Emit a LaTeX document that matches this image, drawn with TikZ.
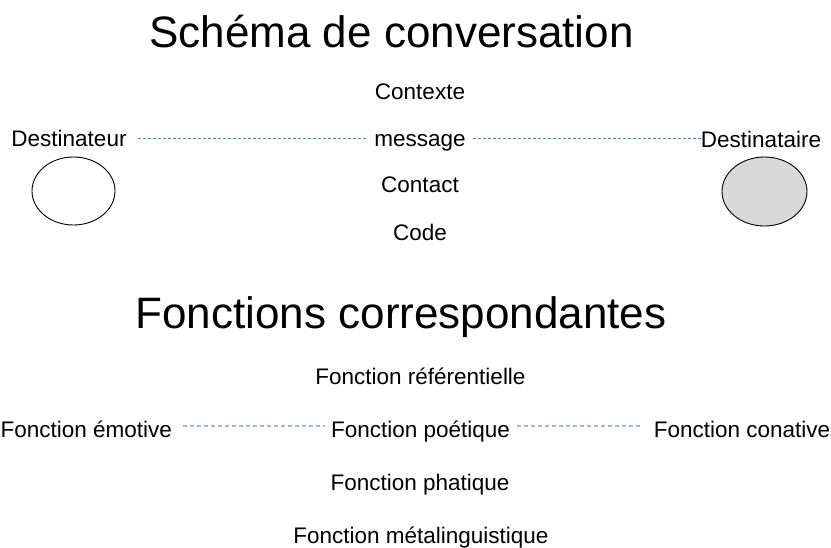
\documentclass[tikz,border=0pt]{standalone}
\usepackage{fontspec}
\setmainfont{Liberation Sans}
\usetikzlibrary{shapes.geometric}
\definecolor{topblue}{HTML}{4F81BD}
\definecolor{lowblue}{HTML}{9DB7DD}
\definecolor{ellgray}{HTML}{D9D9D9}
\tikzset{
  lbl/.style={font=\fontsize{22.5}{27}\selectfont, inner sep=0pt, text height=16pt, text depth=0pt, anchor=base},
  ttl/.style={font=\fontsize{44}{52}\selectfont, inner sep=0pt, anchor=base},
  topdash/.style={draw=topblue, line width=0.9pt, dash pattern=on 3pt off 2pt},
  lowdash/.style={draw=lowblue, line width=1.1pt, dash pattern=on 4pt off 3pt},
  oval/.style={ellipse, draw=black, line width=0.9pt, inner sep=0pt}
}
\begin{document}
\begin{tikzpicture}[x=1pt,y=-1pt]
\useasboundingbox (0,0) rectangle (831,547);
% top part
\node[ttl] (t1) at (391.5,47.5) {Schéma de conversation};
\node[lbl] (ctx) at (420,99) {Contexte};
\node[lbl] (dst) at (69,146) {Destinateur};
\node[lbl] (msg) at (420,146) {message};
\node[lbl] (dtr) at (761,147.5) {Destinataire};
\node[lbl] (cnt) at (420,192.7) {Contact};
\node[lbl] (cod) at (420,240) {Code};
\node[oval, minimum width=83pt, minimum height=68pt] (e1) at (73.5,191) {};
\node[oval, fill=ellgray, minimum width=85pt, minimum height=69pt] (e2) at (764.5,191.5) {};
\draw[topdash, shorten <=11.5pt, shorten >=7.4pt] (dst.east) -- (msg.west);
\draw[topdash, shorten <=7.4pt] (msg.east) -- (dtr.west |- msg.east);
% bottom part
\node[ttl] (t2) at (401,328) {Fonctions correspondantes};
\node[lbl] (ref) at (420.5,384) {Fonction référentielle};
\node[lbl, anchor=base west] (emo) at (0.5,437.5) {Fonction émotive};
\node[lbl] (poe) at (420.5,437.5) {Fonction poétique};
\node[lbl] (con) at (742,437.5) {Fonction conative};
\node[lbl] (pha) at (420,490.7) {Fonction phatique};
\node[lbl] (met) at (421,543) {Fonction métalinguistique};
\draw[lowdash, shorten <=11pt, shorten >=6pt] ([yshift=3.5pt]emo.east) -- ([yshift=3.5pt]emo.east -| poe.west);
\draw[lowdash, shorten <=7pt, shorten >=11pt] ([yshift=3.5pt]poe.east) -- ([yshift=3.5pt]poe.east -| con.west);
\end{tikzpicture}
\end{document}
